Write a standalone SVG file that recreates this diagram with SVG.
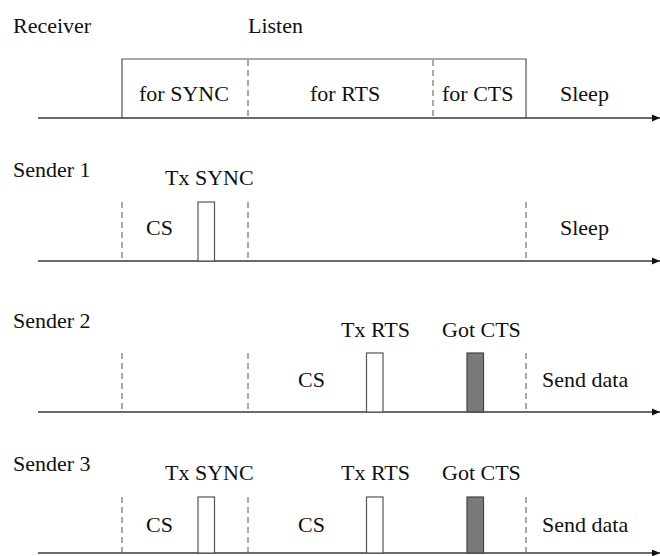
<svg xmlns="http://www.w3.org/2000/svg" width="660" height="556" viewBox="0 0 660 556" font-family="Liberation Serif, Times New Roman, DejaVu Serif, serif" font-size="22">
<style>
.axis{stroke:#3a3a3a;stroke-width:1.3;fill:none}
.box{stroke:#555;stroke-width:1.2;fill:none}
.dash{stroke:#555;stroke-width:1;stroke-dasharray:6,4;fill:none}
.pulse{stroke:#555;stroke-width:1.2;fill:#fff}
.cts{stroke:#444;stroke-width:1.2;fill:#7a7a7a}
.t{font-family:"Liberation Serif",serif;font-size:22px;fill:#111}
</style>
<defs>
<marker id="arr" markerWidth="9" markerHeight="9" refX="8" refY="4" orient="auto" markerUnits="userSpaceOnUse">
<path d="M0,0.5 L8,4 L0,7.5 Z" fill="#111"/>
</marker>
</defs>
<g id="connectors">
<line class="axis" x1="38" y1="118" x2="660" y2="118" marker-end="url(#arr)"/>
<line class="axis" x1="38" y1="261" x2="660" y2="261" marker-end="url(#arr)"/>
<line class="axis" x1="38" y1="412" x2="660" y2="412" marker-end="url(#arr)"/>
<line class="axis" x1="38" y1="553" x2="660" y2="553" marker-end="url(#arr)"/>
</g>
<g id="receiver" class="t">
<text x="13" y="33">Receiver</text>
<text x="248" y="33">Listen</text>
<polyline class="box" points="122,118 122,59 526,59 526,118"/>
<line class="dash" x1="248" y1="60" x2="248" y2="118"/>
<line class="dash" x1="433" y1="60" x2="433" y2="118"/>
<text x="139" y="101">for SYNC</text>
<text x="310" y="101">for RTS</text>
<text x="442" y="101">for CTS</text>
<text x="560" y="101">Sleep</text>
</g>
<g id="sender1" class="t">
<text x="13" y="177">Sender 1</text>
<line class="dash" x1="122" y1="202" x2="122" y2="261"/>
<line class="dash" x1="248" y1="202" x2="248" y2="261"/>
<line class="dash" x1="526" y1="202" x2="526" y2="261"/>
<text x="165" y="185">Tx SYNC</text>
<rect class="pulse" x="198" y="202" width="16.5" height="59"/>
<text x="146" y="235">CS</text>
<text x="560" y="235">Sleep</text>
</g>
<g id="sender2" class="t">
<text x="13" y="328">Sender 2</text>
<line class="dash" x1="122" y1="353" x2="122" y2="412"/>
<line class="dash" x1="248" y1="353" x2="248" y2="412"/>
<line class="dash" x1="526" y1="353" x2="526" y2="412"/>
<text x="341" y="337">Tx RTS</text>
<text x="442" y="337">Got CTS</text>
<rect class="pulse" x="366.5" y="353" width="16.5" height="59"/>
<rect class="cts" x="467" y="353" width="16.5" height="59"/>
<text x="298" y="387">CS</text>
<text x="542" y="387">Send data</text>
</g>
<g id="sender3" class="t">
<text x="13" y="471">Sender 3</text>
<line class="dash" x1="122" y1="497" x2="122" y2="553"/>
<line class="dash" x1="248" y1="497" x2="248" y2="553"/>
<line class="dash" x1="526" y1="497" x2="526" y2="553"/>
<text x="165" y="480">Tx SYNC</text>
<text x="341" y="480">Tx RTS</text>
<text x="442" y="480">Got CTS</text>
<rect class="pulse" x="198" y="497" width="16.5" height="56"/>
<rect class="pulse" x="366.5" y="497" width="16.5" height="56"/>
<rect class="cts" x="467" y="497" width="16.5" height="56"/>
<text x="146" y="532">CS</text>
<text x="298" y="532">CS</text>
<text x="542" y="532">Send data</text>
</g>
</svg>
